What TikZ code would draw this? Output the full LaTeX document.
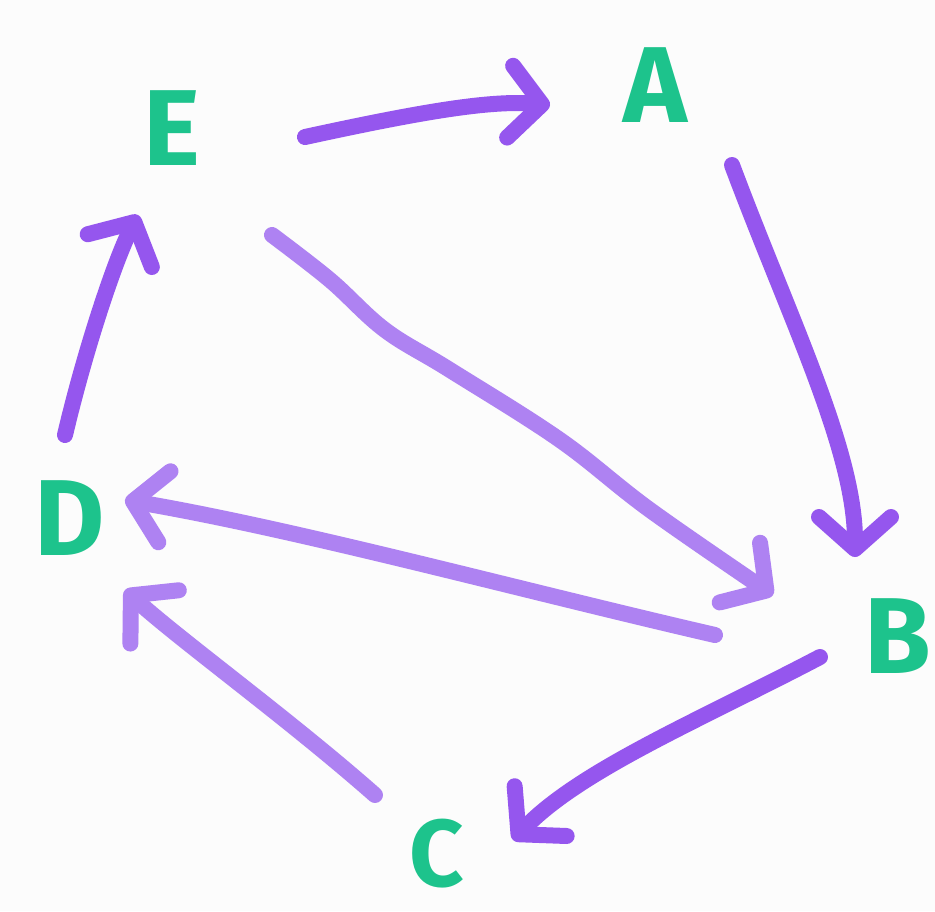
\documentclass[tikz,border=0pt]{standalone}
\usepackage{fontspec}
\setmainfont{Fira Sans}
\usetikzlibrary{arrows.meta,calc}
\definecolor{lettergreen}{HTML}{1DC38C}
\definecolor{pen}{HTML}{9556EE}
\definecolor{penlight}{HTML}{AE82F2}
\definecolor{paper}{HTML}{FCFCFC}
\tikzset{
  letter/.style={text=lettergreen, font=\fontsize{108}{108}\selectfont\bfseries, inner sep=0pt, text depth=0pt},
  smallletter/.style={letter, font=\fontsize{95}{95}\selectfont\bfseries},
  arr/.style={draw=pen, line width=16pt, line cap=round, line join=round,
    -{Straight Barb[length=32pt, width=72pt, line cap=round, line join=round]}},
  arrlight/.style={arr, draw=penlight},
}
\begin{document}
\begin{tikzpicture}[x=1pt, y=-1pt]
\fill[paper] (0,0) rectangle (935,911);
\useasboundingbox (0,0) rectangle (935,911);
\node[letter] (E) at (172,128) {E};
\node[letter] (A) at (655,85) {A};
\node[letter] (B) at (898,636) {B};
\node[smallletter] (C) at (437,853) {C};
\node[letter] (D) at (70,518) {D};
% E -> A
\draw[arr] ($(E)+(133,9)$) .. controls (420,112) and (490,100) .. ($(A)+(-105,20)$);
% A -> B
\draw[arr] ($(A)+(77,80)$) .. controls (790,320) and (855,450) .. ($(B)+(-43,-79)$);
% E -> B
\draw[arrlight] plot[smooth, tension=0.6] coordinates {($(E)+(100,107)$) (330,280) (385,330) (450,370) (560,440) (650,510) ($(B)+(-125,-41)$)};
% B -> D
\draw[arrlight] ($(B)+(-183,-1)$) .. controls (520,590) and (300,530) .. ($(D)+(55,-18)$);
% D -> E
\draw[arr] ($(D)+(-5,-83)$) .. controls (85,350) and (115,260) .. ($(E)+(-34,87)$);
% C -> D
\draw[arrlight] ($(C)+(-62,-58)$) .. controls (290,720) and (180,640) .. ($(D)+(55,72)$);
% B -> C
\draw[arr] ($(B)+(-78,21)$) .. controls (700,720) and (580,770) .. ($(C)+(76,-13)$);
\end{tikzpicture}
\end{document}
